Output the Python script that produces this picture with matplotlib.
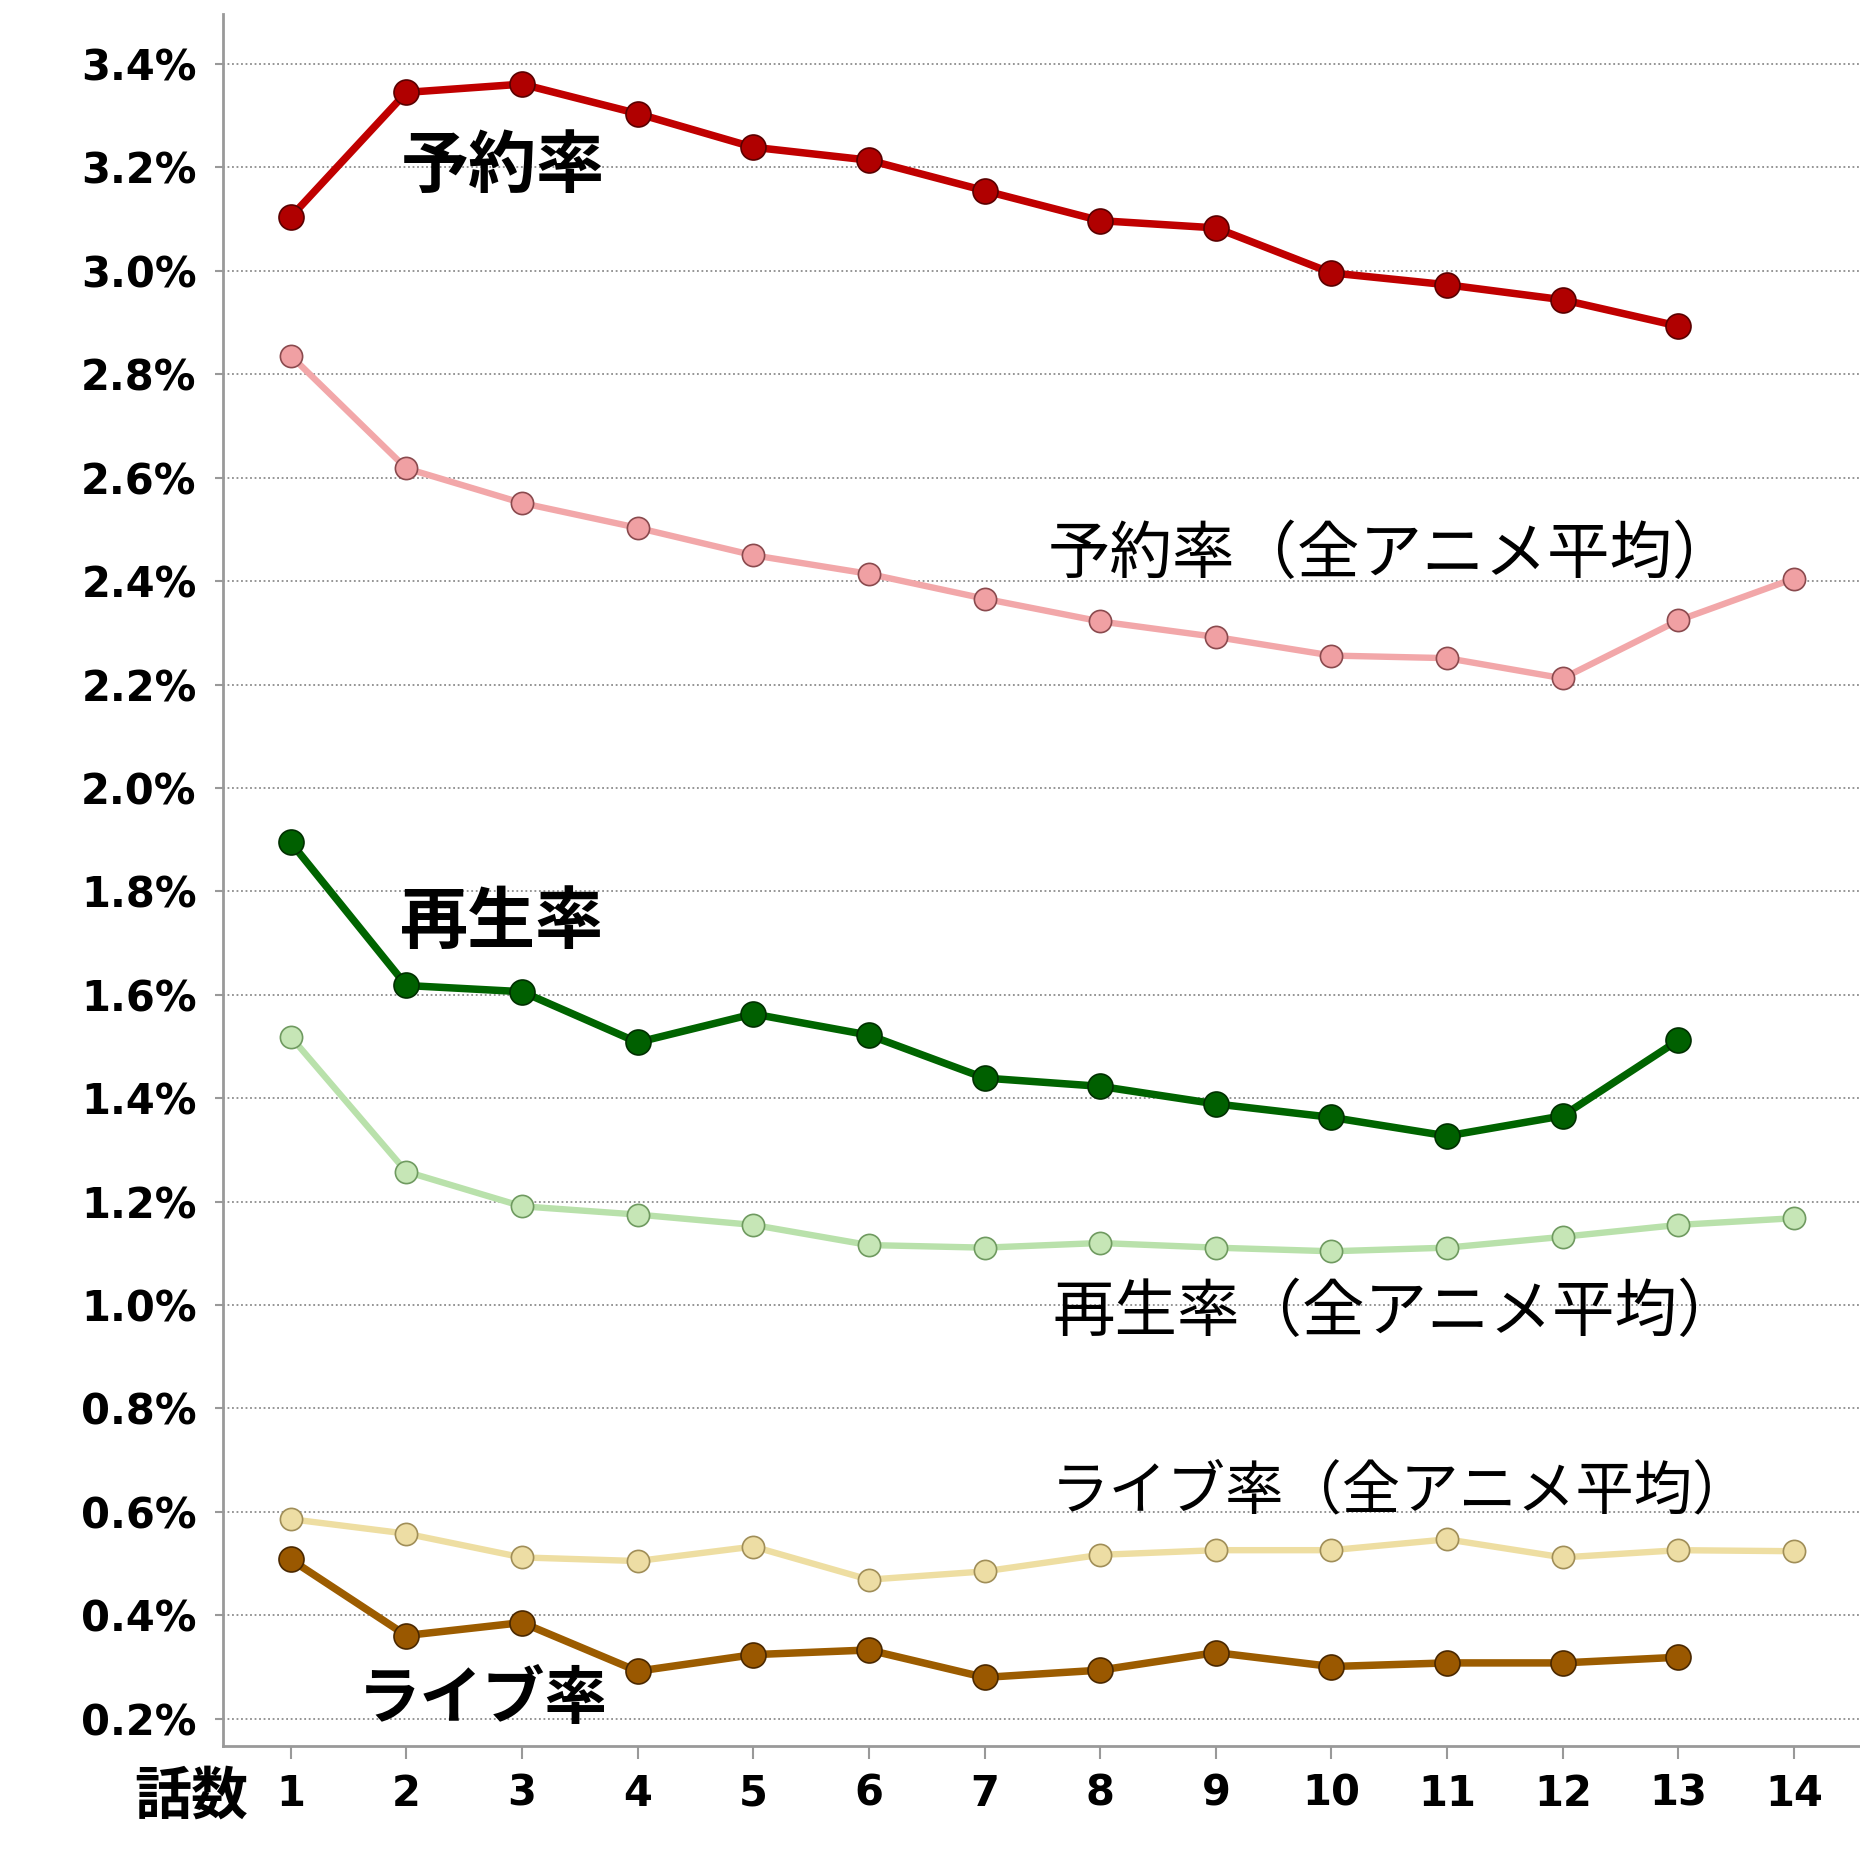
import numpy as np
import matplotlib
matplotlib.use("Agg")
import matplotlib.pyplot as plt
from matplotlib.ticker import FuncFormatter

plt.rcParams['font.family'] = ['DejaVu Sans', 'Noto Sans CJK JP']

episodes = np.arange(1, 15)

# values in percent
reserve       = [3.104, 3.345, 3.361, 3.304, 3.239, 3.214, 3.155, 3.097, 3.083, 2.996, 2.973, 2.944, 2.893]
reserve_avg   = [2.836, 2.618, 2.551, 2.503, 2.450, 2.414, 2.366, 2.322, 2.292, 2.256, 2.251, 2.212, 2.324, 2.405]
play          = [1.895, 1.618, 1.606, 1.508, 1.563, 1.522, 1.439, 1.423, 1.389, 1.363, 1.327, 1.366, 1.512]
play_avg      = [1.519, 1.258, 1.191, 1.175, 1.155, 1.116, 1.111, 1.120, 1.111, 1.104, 1.111, 1.132, 1.155, 1.168]
live_avg      = [0.586, 0.558, 0.512, 0.505, 0.533, 0.469, 0.485, 0.517, 0.526, 0.526, 0.547, 0.512, 0.526, 0.524]
live          = [0.508, 0.361, 0.386, 0.292, 0.324, 0.333, 0.280, 0.294, 0.328, 0.301, 0.308, 0.308, 0.319]

yticks = np.arange(0.2, 3.41, 0.2)

fig = plt.figure(figsize=(18.6, 18.6), dpi=100)
ax = fig.add_axes([0.1199, 0.0612, 0.8801, 0.9311])

# pale "average" series underneath
pale = [
    (reserve_avg, "#F2A7A9", "#F0A0A3", "#8A4A4E"),
    (play_avg,    "#B9E1AB", "#C6E6B6", "#6F9A60"),
    (live_avg,    "#EEDEA2", "#EDDDA4", "#A08E58"),
]
for vals, lc, fc, ec in pale:
    x = episodes[:len(vals)]
    ax.plot(x, vals, color=lc, linewidth=4.6, zorder=2,
            marker="o", markersize=16, markerfacecolor=fc,
            markeredgecolor=ec, markeredgewidth=1.2)

dark = [
    (reserve, "#C00000", "#B00000", "#5A0000"),
    (play,    "#006400", "#006000", "#003000"),
    (live,    "#9C5C00", "#9A5800", "#4A2800"),
]
for vals, lc, fc, ec in dark:
    x = episodes[:len(vals)]
    ax.plot(x, vals, color=lc, linewidth=5.4, zorder=3,
            marker="o", markersize=18, markerfacecolor=fc,
            markeredgecolor=ec, markeredgewidth=1.2)

ax.set_xlim(0.415, 14.57)
ax.set_ylim(0.147, 3.496)
ax.set_yticks(yticks)
ax.set_xticks(episodes)
ax.yaxis.set_major_formatter(FuncFormatter(lambda v, p: f"{v:.1f}%"))

ax.grid(axis="y", linestyle=(0, (1, 1.5)), color="#8C8C8C", linewidth=1.3, zorder=1)
for s in ["top", "right"]:
    ax.spines[s].set_visible(False)
for s in ["left", "bottom"]:
    ax.spines[s].set_color("#999999")
    ax.spines[s].set_linewidth(2)

ax.tick_params(axis="y", length=6, width=1.5, color="#999999", pad=13,
               labelsize=30)
ax.tick_params(axis="x", length=9, width=1.5, color="#999999", pad=10,
               labelsize=30)
for lab in ax.get_xticklabels() + ax.get_yticklabels():
    lab.set_fontweight("bold")

jp = ["Noto Sans CJK JP", "DejaVu Sans"]
ax.text(2.83, 3.20, "予約率", fontsize=49, fontweight="bold", family=jp,
        ha="center", va="center", zorder=5)
ax.text(2.83, 1.737, "再生率", fontsize=49, fontweight="bold", family=jp,
        ha="center", va="center", zorder=5)
ax.text(2.66, 0.238, "ライブ率", fontsize=45, fontweight="bold", family=jp,
        ha="center", va="center", zorder=5)

ax.text(10.52, 2.45, "予約率（全アニメ平均）", fontsize=45, family=jp,
        ha="center", va="center", zorder=5)
ax.text(10.56, 0.984, "再生率（全アニメ平均）", fontsize=45, family=jp,
        ha="center", va="center", zorder=5)
ax.text(10.6, 0.638, "ライブ率（全アニメ平均）", fontsize=42, family=jp,
        ha="center", va="center", zorder=5)

fig.text(0.103, 0.034, "話数", fontsize=41, fontweight="bold", family=jp,
         ha="center", va="center")

plt.savefig("out.png", dpi=100)
plt.close()
